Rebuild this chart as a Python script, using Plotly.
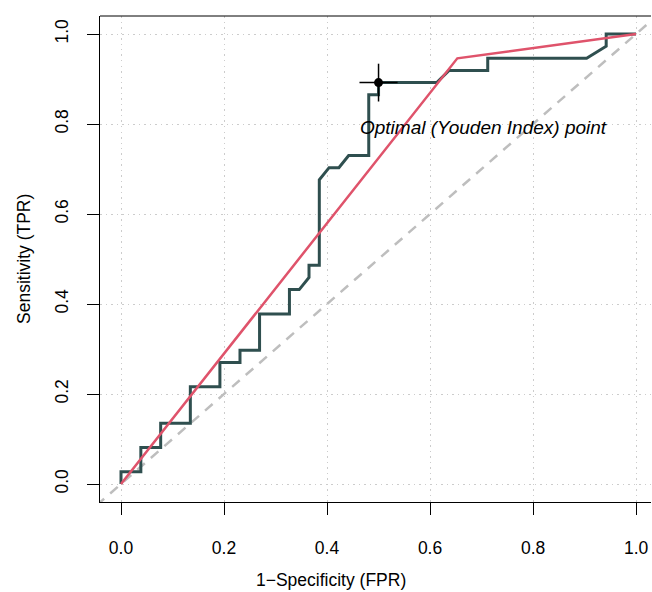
import plotly.graph_objects as go

# ---- data ----
roc_fpr = [0, 0, 0.0385, 0.0385, 0.077, 0.077, 0.1346, 0.1346, 0.192, 0.192,
           0.231, 0.231, 0.269, 0.269, 0.327, 0.327, 0.346, 0.365, 0.365, 0.385,
           0.385, 0.404, 0.423, 0.442, 0.481, 0.481, 0.5, 0.5, 0.613, 0.637,
           0.712, 0.712, 0.904, 0.942, 0.942, 1.0]
roc_tpr = [0, 0.027, 0.027, 0.081, 0.081, 0.135, 0.135, 0.216, 0.216, 0.270,
           0.270, 0.297, 0.297, 0.378, 0.378, 0.432, 0.432, 0.459, 0.486, 0.486,
           0.676, 0.703, 0.703, 0.730, 0.730, 0.865, 0.865, 0.892, 0.892, 0.919,
           0.919, 0.946, 0.946, 0.973, 1.0, 1.0]
bin_fpr = [0, 0.653, 1.0]
bin_tpr = [0, 0.946, 1.0]
diag = [-0.1, 1.1]
opt_fpr = [0.5]
opt_tpr = [0.892]
opt_err_x = [0.037]
opt_err_y = [0.042]
ticks = [0, 0.2, 0.4, 0.6, 0.8, 1.0]
tick_labels = ["0.0", "0.2", "0.4", "0.6", "0.8", "1.0"]
x_title = "1\u2212Specificity (FPR)"
y_title = "Sensitivity (TPR)"
note = "Optimal (Youden Index) point"
note_pos = (0.703, 0.792)

FONT = "Liberation Sans, Arial, sans-serif"

fig = go.Figure()
fig.add_trace(go.Scatter(x=diag, y=diag, mode="lines",
                         line=dict(color="#BEBEBE", width=2.5, dash="10px,8px"),
                         hoverinfo="skip"))
fig.add_trace(go.Scatter(x=roc_fpr, y=roc_tpr, mode="lines",
                         line=dict(color="#2F4F4F", width=3), hoverinfo="skip"))
fig.add_trace(go.Scatter(x=bin_fpr, y=bin_tpr, mode="lines",
                         line=dict(color="#DF536B", width=2.5), hoverinfo="skip"))
fig.add_trace(go.Scatter(x=opt_fpr, y=opt_tpr, mode="markers",
                         marker=dict(color="black", size=9),
                         error_x=dict(type="data", array=opt_err_x, width=0,
                                      thickness=1.5, color="black"),
                         error_y=dict(type="data", array=opt_err_y, width=0,
                                      thickness=1.5, color="black"),
                         hoverinfo="skip"))

axis_common = dict(
    tickvals=ticks, ticktext=tick_labels, ticks="outside", ticklen=12,
    tickcolor="black", tickwidth=1, showline=True, linecolor="black", linewidth=1,
    showgrid=True, gridcolor="#CCCCCC", griddash="1.5px,4px", gridwidth=1,
    zeroline=False, automargin=False,
    tickfont=dict(family=FONT, size=17.5, color="black"),
)
fig.update_xaxes(range=[-0.0408, 1.029], ticklabelstandoff=18, **axis_common)
fig.update_yaxes(range=[-0.04, 1.04], tickangle=-90, ticklabelstandoff=12,
                 **axis_common)

fig.add_shape(type="line", xref="paper", yref="paper", x0=0, x1=1, y0=1, y1=1,
              line=dict(color="black", width=1))

fig.add_annotation(x=note_pos[0], y=note_pos[1], xref="x", yref="y", text=note,
                   showarrow=False, xanchor="center", yanchor="middle",
                   font=dict(family=FONT, size=19, color="black", style="italic"))
fig.add_annotation(x=0.42, y=-0.1605, xref="paper",
                   yref="paper", text=x_title, showarrow=False,
                   xanchor="center", yanchor="middle",
                   font=dict(family=FONT, size=17.5, color="black"))
fig.add_annotation(x=-0.138, y=0.5, xref="paper", yref="paper", text=y_title,
                   showarrow=False, textangle=-90, xanchor="center",
                   yanchor="middle", font=dict(family=FONT, size=17.5, color="black"))

fig.update_layout(width=652, height=592, margin=dict(l=100, r=1, t=16, b=90),
                  plot_bgcolor="white", paper_bgcolor="white", showlegend=False)

fig.write_html("out.html", config={"displayModeBar": False},
               post_script="document.body.style.margin='0';"
                           "document.body.style.overflow='hidden';")
